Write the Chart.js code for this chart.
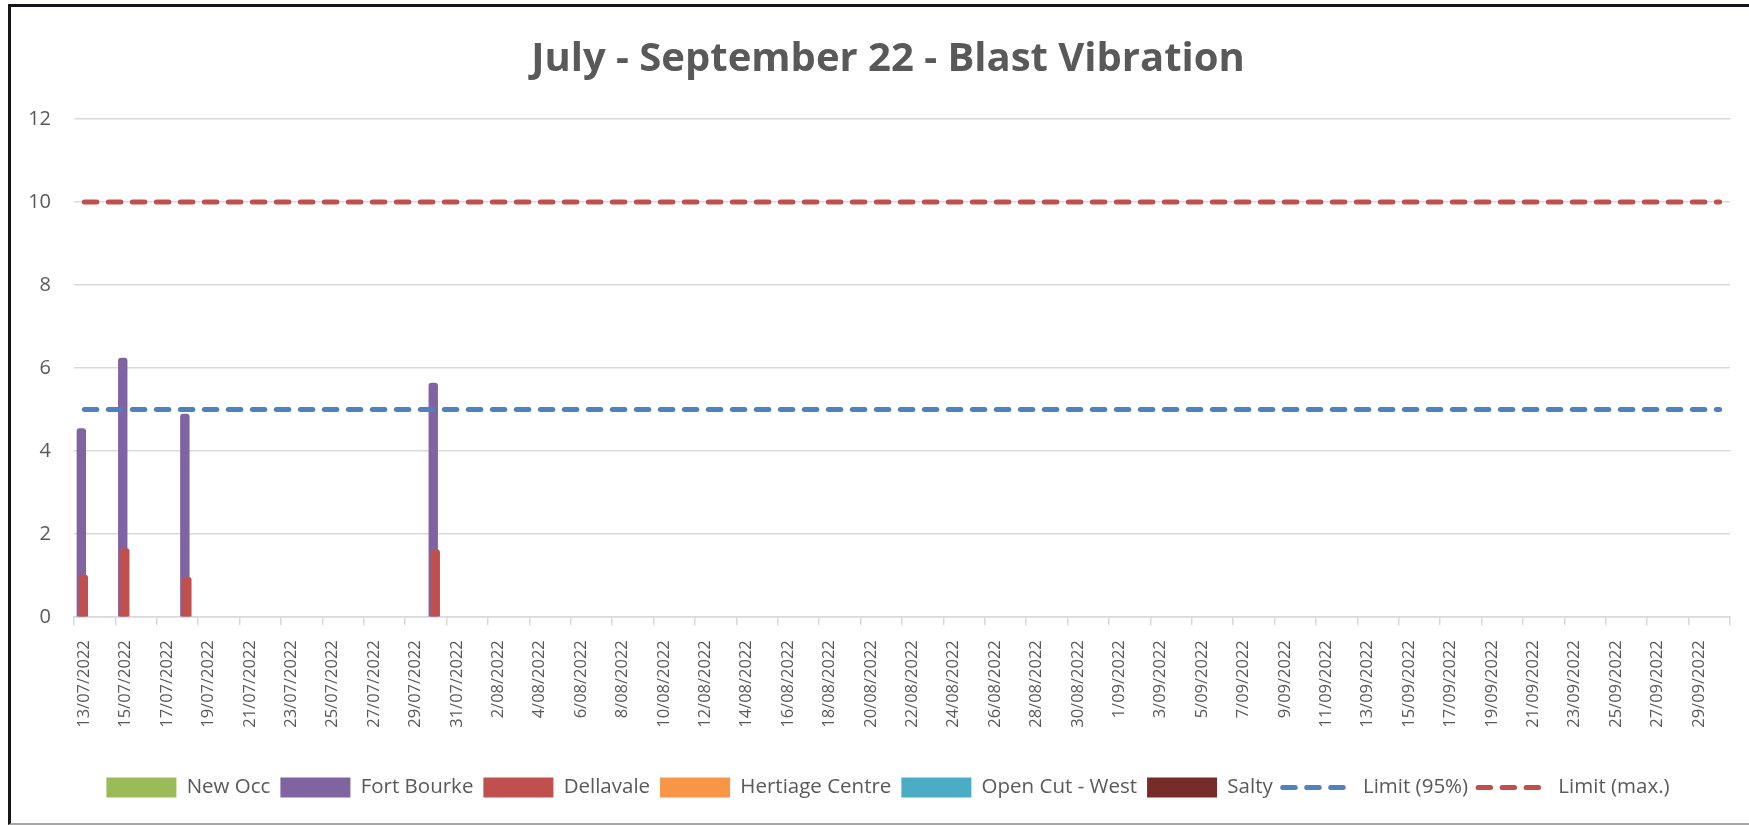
<!DOCTYPE html>
<html>
<head>
<meta charset="utf-8">
<script src="https://cdn.jsdelivr.net/npm/chart.js@4.4.1/dist/chart.umd.min.js"></script>
<style>
  html, body { margin: 0; padding: 0; background: #ffffff; width: 1749px; height: 825px; overflow: hidden; }
  #frame {
    position: absolute; left: 8px; top: 4px;
    width: 1741px; height: 816px;
    border-top: 3px solid #15151d; border-left: 3px solid #15151d; border-bottom: 2px solid #a6a6a6;
    overflow: hidden;
  }
  #box { position: absolute; left: 0; top: 0; width: 1738px; height: 816px; }
</style>
</head>
<body>
<div id="frame"><div id="box"><canvas id="c"></canvas></div></div>
<script>
// ---- axis categories (every day of the period) ----
const periodStart = [2022, 7, 13];
const periodEnd = [2022, 9, 30];

// ---- blast events ----
const blastDays = ['13/07/2022', '15/07/2022', '18/07/2022', '30/07/2022'];
const newOcc = [null, null, null, null];
const fortBourke = [4.55, 6.25, 4.9, 5.65];
const dellavale = [1.02, 1.66, 0.97, 1.63];
const hertiageCentre = [null, null, null, null];
const openCutWest = [null, null, null, null];
const salty = [null, null, null, null];

// ---- limits ----
const limitDays = ['13/07/2022', '30/09/2022'];
const limit95 = [5, 5];
const limitMax = [10, 10];

const yTicks = [0, 2, 4, 6, 8, 10, 12];

// build category labels d/mm/yyyy
const dayLabels = [];
{
  const d = new Date(periodStart[0], periodStart[1] - 1, periodStart[2]);
  const end = new Date(periodEnd[0], periodEnd[1] - 1, periodEnd[2]);
  while (d <= end) {
    dayLabels.push(d.getDate() + '/' + String(d.getMonth() + 1).padStart(2, '0') + '/' + d.getFullYear());
    d.setDate(d.getDate() + 1);
  }
}

const toPoints = (days, vals) => days.map((x, i) => ({ x: x, y: vals[i] }));

const FONT = '"Open Sans", "DejaVu Sans", sans-serif';
const TXT = '#595959';

const barBase = {
  type: 'bar',
  categoryPercentage: 0.58,
  barPercentage: 4.7,
  borderWidth: 0,
  borderRadius: { topLeft: 3, topRight: 3, bottomLeft: 0, bottomRight: 0 },
  borderSkipped: 'start',
  pointStyle: 'rect'
};
const lineBase = {
  type: 'line',
  borderWidth: 5,
  borderCapStyle: 'round',
  borderDash: [12.5, 11.5],
  pointRadius: 0,
  pointHoverRadius: 0,
  pointStyle: 'line',
  fill: false,
  order: -1
};

const datasets = [
  Object.assign({}, barBase, { label: 'New Occ', data: toPoints(blastDays, newOcc), backgroundColor: '#9BBB59' }),
  Object.assign({}, barBase, { label: 'Fort Bourke', data: toPoints(blastDays, fortBourke), backgroundColor: '#8064A2' }),
  Object.assign({}, barBase, { label: 'Dellavale', data: toPoints(blastDays, dellavale), backgroundColor: '#C0504D' }),
  Object.assign({}, barBase, { label: 'Hertiage Centre', data: toPoints(blastDays, hertiageCentre), backgroundColor: '#F79646' }),
  Object.assign({}, barBase, { label: 'Open Cut - West', data: toPoints(blastDays, openCutWest), backgroundColor: '#4BACC6' }),
  Object.assign({}, barBase, { label: 'Salty', data: toPoints(blastDays, salty), backgroundColor: '#772C2A' }),
  Object.assign({}, lineBase, { label: 'Limit (95%)', data: toPoints(limitDays, limit95), borderColor: '#4F81BD', backgroundColor: '#4F81BD' }),
  Object.assign({}, lineBase, { label: 'Limit (max.)', data: toPoints(limitDays, limitMax), borderColor: '#C0504D', backgroundColor: '#C0504D' })
];

// Excel draws later series on top of earlier ones: draw Fort Bourke first
const FB = 1;
const seriesOrderPlugin = {
  id: 'seriesOrder',
  beforeDatasetsDraw(chart) {
    if (chart.isDatasetVisible(FB)) chart.getDatasetMeta(FB).controller.draw();
  },
  beforeDatasetDraw(chart, args) {
    if (args.index === FB) return false;
  }
};

new Chart(document.getElementById('c'), {
  data: { labels: dayLabels, datasets: datasets },
  plugins: [seriesOrderPlugin],
  options: {
    responsive: true,
    maintainAspectRatio: false,
    animation: false,
    layout: { padding: { left: 16, right: 0, top: 0, bottom: 15.3 } },
    plugins: {
      title: {
        display: true,
        text: 'July - September 22 - Blast Vibration',
        color: TXT,
        font: { family: '"Open Sans", sans-serif', size: 40, weight: 'bold', lineHeight: 1.2 },
        padding: { top: 29, bottom: 35 }
      },
      legend: {
        position: 'bottom',
        labels: {
          usePointStyle: true,
          pointStyleWidth: 70,
          boxHeight: 20,
          color: TXT,
          font: { family: FONT, size: 20.5 },
          padding: 10,
          sort: (a, b) => a.datasetIndex - b.datasetIndex,
          generateLabels: (chart) => {
            const items = Chart.defaults.plugins.legend.labels.generateLabels(chart);
            items.forEach(it => {
              const ds = chart.data.datasets[it.datasetIndex];
              if (ds.type === 'line') {
                it.lineDash = ds.borderDash;
                it.lineCap = 'round';
                it.lineWidth = ds.borderWidth;
                it.strokeStyle = ds.borderColor;
              } else {
                it.lineWidth = 0;
              }
            });
            return items;
          }
        }
      },
      tooltip: { enabled: false }
    },
    scales: {
      x: {
        type: 'category',
        offset: true,
        grid: {
          offset: true,
          drawOnChartArea: false,
          drawTicks: true,
          tickLength: 8,
          color: (c) => (c.index === undefined || c.index % 2 === 0) ? '#d9d9d9' : 'rgba(0,0,0,0)',
          lineWidth: 1.5
        },
        border: { display: true, color: '#d9d9d9', width: 1.5 },
        ticks: {
          autoSkip: false,
          minRotation: 90,
          maxRotation: 90,
          padding: 15,
          color: TXT,
          font: { family: FONT, size: 16.5 },
          callback: function (v, i) { return i % 2 === 0 ? this.getLabelForValue(v) : ''; }
        },
        afterFit: (s) => { s.height = 150; s.paddingLeft = 0; s.paddingRight = 19; }
      },
      y: {
        min: yTicks[0],
        max: yTicks[yTicks.length - 1],
        afterBuildTicks: (s) => { s.ticks = yTicks.map(v => ({ value: v })); },
        grid: { color: '#d9d9d9', lineWidth: 1.5, drawTicks: false },
        border: { display: false },
        ticks: {
          padding: 23,
          color: TXT,
          font: { family: FONT, size: 20 }
        },
        afterFit: (s) => { s.width = 47; }
      }
    }
  }
});
</script>
</body>
</html>
